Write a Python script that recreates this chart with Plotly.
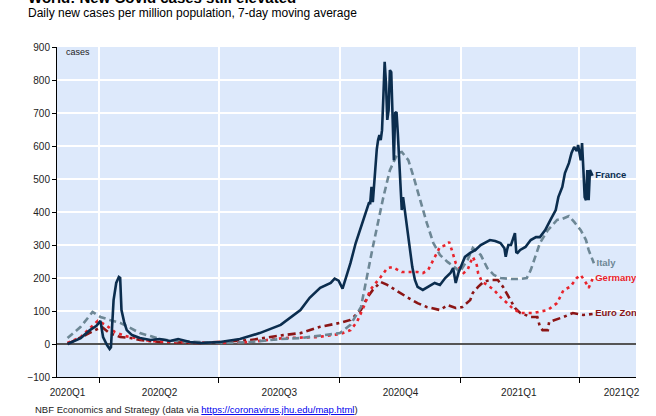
import pandas as pd
import plotly.graph_objects as go

BASE = pd.Timestamp("2020-01-01")

# ---- data (day = days since 2020-01-01, value = cases per million) ----
FR_DAY = [67, 77, 84, 89, 92, 94, 97, 99, 100, 102, 104, 105, 106, 107, 108, 110, 112, 116, 122, 130,
          137, 145, 151, 160, 168, 183, 198, 213, 229, 244, 251, 259, 267, 270, 273, 276, 282, 286,
          291, 296, 297, 298, 299, 300, 301, 302, 303, 304, 305, 306, 307, 308, 309, 310, 311, 312,
          313, 314, 315, 316, 317, 318, 319, 320, 321, 322, 323, 325, 327, 329, 331, 333, 337, 341,
          346, 350, 354, 358, 360, 362, 364, 367, 369, 373, 377, 381, 385, 388, 392, 396, 399, 400,
          401, 402, 404, 406, 407, 408, 409, 411, 415, 419, 423, 426, 430, 434, 438, 440, 443, 445,
          448, 450, 452, 454, 455, 457, 458, 459, 460, 461, 462, 463, 464, 466]
FR_VAL = [0, 18, 42, 55, 70, 21, -3, -15, -10, 133, 185, 195, 203, 200, 103, 67, 42, 27, 18, 12,
          15, 9, 15, 6, 3, 6, 15, 33, 58, 103, 140, 170, 185, 198, 192, 168, 245, 306,
          367, 427, 427, 476, 430, 488, 557, 590, 618, 633, 618, 648, 748, 855, 790, 679, 709, 830,
          824, 688, 557, 700, 703, 639, 567, 458, 406, 445, 415, 345, 285, 233, 194, 173, 164, 173,
          185, 179, 200, 215, 230, 185, 215, 245, 264, 276, 285, 300, 309, 315, 312, 306, 290, 264,
          285, 300, 300, 320, 336, 278, 276, 285, 294, 315, 324, 324, 345, 376, 406, 445, 476, 518,
          548, 579, 597, 585, 603, 557, 609, 530, 445, 436, 527, 436, 527, 510]

IT_DAY = [67, 77, 86, 92, 99, 107, 115, 122, 130, 137, 149, 168, 183, 206, 229, 244, 264, 274, 282,
          290, 299, 307, 312, 318, 321, 326, 330, 335, 340, 345, 350, 356, 362, 365, 371, 375, 381,
          386, 391, 396, 404, 411, 416, 419, 423, 426, 432, 439, 443, 448, 452, 457, 461, 463, 467]
IT_VAL = [18, 52, 97, 82, 73, 64, 48, 33, 24, 15, 9, 6, 3, 6, 15, 18, 27, 33, 58,
          112, 294, 445, 527, 579, 582, 557, 506, 436, 367, 306, 270, 248, 230, 218, 255, 291, 270,
          230, 209, 200, 197, 197, 200, 224, 270, 306, 345, 376, 379, 388, 370, 345, 315, 285, 245]

DE_DAY = [67, 77, 84, 90, 96, 103, 111, 118, 130, 153, 183, 206, 231, 257, 274, 282, 287, 292, 297,
          305, 310, 314, 318, 321, 328, 333, 337, 341, 345, 350, 355, 357, 359, 362, 368, 371, 373,
          375, 378, 379, 382, 386, 391, 396, 401, 405, 411, 421, 432, 439, 444, 449, 454, 457, 461,
          463, 466]
DE_VAL = [3, 21, 48, 70, 58, 36, 24, 18, 9, 6, 3, 6, 18, 21, 30, 42, 67, 112, 164,
          203, 230, 233, 224, 218, 218, 218, 215, 224, 255, 294, 300, 309, 285, 245, 215, 224, 245,
          264, 239, 215, 188, 179, 164, 142, 124, 109, 94, 94, 103, 124, 164, 173, 200, 209, 185,
          170, 197]

EZ_DAY = [67, 80, 88, 93, 99, 107, 115, 122, 137, 168, 206, 219, 231, 244, 259, 274, 282, 290, 295,
          299, 305, 310, 318, 325, 333, 340, 350, 356, 362, 367, 373, 375, 379, 383, 388, 394, 398,
          404, 407, 411, 419, 424, 426, 428, 432, 433, 438, 444, 451, 459, 466]
EZ_VAL = [0, 27, 42, 52, 33, 21, 18, 12, 6, 3, 12, 21, 27, 33, 52, 64, 73, 103, 142,
          164, 188, 179, 158, 142, 124, 112, 103, 118, 109, 112, 133, 155, 173, 188, 194, 194, 173,
          133, 109, 94, 82, 82, 52, 42, 42, 67, 73, 82, 94, 88, 91]

SERIES = [
    ("Euro Zone", EZ_DAY, EZ_VAL, "#8b1515", "8px,4px,3px,4px"),
    ("Germany", DE_DAY, DE_VAL, "#e8232b", "3px,4px"),
    ("Italy", IT_DAY, IT_VAL, "#6d8795", "7px,4px"),
    ("France", FR_DAY, FR_VAL, "#0b2d4e", "solid"),
]

QUARTER_LABELS = ["2020Q1", "2020Q2", "2020Q3", "2020Q4", "2021Q1", "2021Q2"]
QUARTER_LABEL_POS = ["2020-03-08", "2020-05-17", "2020-08-16", "2020-11-16", "2021-02-14", "2021-05-03"]
QUARTER_BOUNDS = ["2020-04-01", "2020-07-01", "2020-10-01", "2021-01-01", "2021-04-01"]
X_RANGE = ["2020-02-29", "2021-05-14"]

FONT = "Arial, 'Liberation Sans', sans-serif"

fig = go.Figure()
for name, days, vals, color, dash in SERIES:
    dates = BASE + pd.to_timedelta(days, unit="D")
    fig.add_trace(go.Scatter(x=dates, y=vals, mode="lines", name=name,
                             line=dict(color=color, width=2.6, dash=dash),
                             hoverinfo="skip", showlegend=False))
for name, days, vals, color, dash in SERIES:
    last = BASE + pd.Timedelta(days=days[-1] + 2)
    fig.add_trace(go.Scatter(x=[last], y=[vals[-1]], mode="text",
                             text=["<b>%s</b>" % name], textposition="middle right",
                             textfont=dict(color=color, size=9.5, family=FONT),
                             cliponaxis=True, showlegend=False, hoverinfo="skip"))

fig.update_layout(
    width=656, height=416,
    margin=dict(l=57, r=20, t=47, b=39, autoexpand=False),
    paper_bgcolor="white", plot_bgcolor="#dde9fb",
    font=dict(family=FONT, size=10, color="#222222"),
    showlegend=False,
)
fig.update_xaxes(
    type="date", range=X_RANGE,
    tickmode="array", tickvals=QUARTER_LABEL_POS, ticktext=QUARTER_LABELS,
    ticks="outside", ticklen=6, tickcolor="rgba(0,0,0,0)",
    showgrid=False, zeroline=False,
    showline=True, linecolor="black", linewidth=1,
    tickfont=dict(size=10, color="#222222"),
    minor=dict(tickmode="array", tickvals=QUARTER_BOUNDS, ticks="outside", ticklen=5,
               tickcolor="black", tickwidth=1, showgrid=True, gridcolor="white", gridwidth=1.5),
)
fig.update_yaxes(
    range=[-100, 900], tickmode="linear", tick0=0, dtick=100,
    ticks="outside", ticklen=4, tickcolor="black",
    showline=True, linecolor="black", linewidth=1,
    gridcolor="white", gridwidth=1.5,
    zeroline=True, zerolinecolor="#555555", zerolinewidth=1.5,
    tickfont=dict(size=10, color="#222222"),
)

fig.add_annotation(text="<b>World: New Covid cases still elevated</b>", xref="paper", yref="paper",
                   x=-0.0535, y=1.151, xanchor="left", yanchor="middle", showarrow=False,
                   font=dict(size=15, color="black", family=FONT))
fig.add_annotation(text="Daily new cases per million population, 7-day moving average",
                   xref="paper", yref="paper", x=-0.0535, y=1.103, xanchor="left", yanchor="middle",
                   showarrow=False, font=dict(size=12, color="black", family=FONT))
fig.add_annotation(text="cases", xref="paper", yref="paper", x=0.012, y=0.985,
                   xanchor="left", yanchor="middle", showarrow=False,
                   font=dict(size=9, color="#222222", family=FONT))
fig.add_annotation(
    text="NBF Economics and Strategy (data via "
         "<a href='https://coronavirus.jhu.edu/map.html' style='color:#0000ee;text-decoration:underline'>"
         "https://coronavirus.jhu.edu/map.html</a>)",
    xref="paper", yref="paper", x=-0.0415, y=-0.097, xanchor="left", yanchor="middle",
    showarrow=False, font=dict(size=9.5, color="#222222", family=FONT))

# remove the default 8px page margin so the figure sits at the window's top-left corner
fig.write_html("out.html", config={"displayModeBar": False},
               post_script="document.body.style.margin='0';")
